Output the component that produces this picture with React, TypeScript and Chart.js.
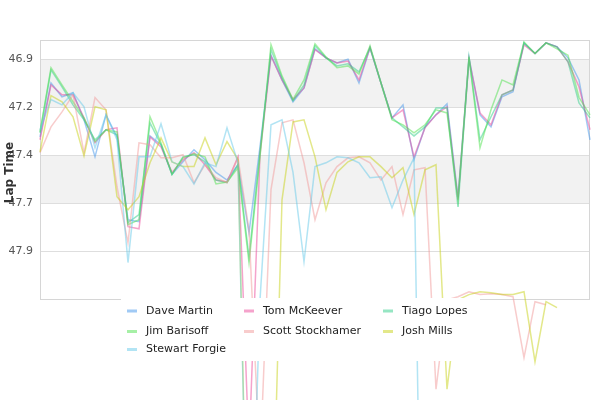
import React, { useEffect, useRef } from 'react';
import { Chart, registerables } from 'chart.js';

Chart.register(...registerables);

const laps = [
  '1', '2', '3', '4', '5', '6', '7', '8', '9', '10',
  '11', '12', '13', '14', '15', '16', '17', '18', '19', '20',
  '21', '22', '23', '24', '25', '26', '27', '28', '29', '30',
  '31', '32', '33', '34', '35', '36', '37', '38', '39', '40',
  '41', '42', '43', '44', '45', '46', '47', '48', '49', '50', '51',
];

const yTicks = [46.9, 47.15, 47.4, 47.65, 47.9];
const yTickLabels = ['46.9', '47.2', '47.4', '47.7', '47.9'];

const daveMartin = [
  47.305, 47.024, 47.096, 47.075, 47.216, 47.409, 47.19, 47.305, 47.737, 47.747,
  47.3, 47.346, 47.5, 47.435, 47.372, 47.424, 47.49, 47.53, 47.45, 47.805,
  47.357, 46.88, 47.008, 47.122, 47.05, 46.846, 46.893, 46.92, 46.9, 47.024,
  46.84, 47.024, 47.206, 47.138, 47.424, 47.253, 47.19, 47.133, 47.62, 46.893,
  47.19, 47.253, 47.096, 47.07, 46.815, 46.87, 46.815, 46.836, 46.893, 47.008, 47.32,
];
const tomMcKeever = [
  47.32, 47.034, 47.086, 47.086, 47.206, 47.336, 47.268, 47.258, 47.773, 47.784,
  47.305, 47.357, 47.49, 47.424, 47.388, 47.45, 47.53, 47.54, 47.409, 48.935,
  47.398, 46.883, 47.008, 47.11, 47.05, 46.85, 46.893, 46.92, 46.91, 47.008,
  46.84, 47.024, 47.206, 47.164, 47.409, 47.258, 47.19, 47.148, 47.633, 46.9,
  47.18, 47.242, 47.086, 47.06, 46.825, 46.87, 46.815, 46.836, 46.914, 47.044, 47.268,
];
const tiagoLopes = [
  47.284, 46.956, 47.044, 47.138, 47.216, 47.32, 47.268, 47.294, 47.752, 47.71,
  47.232, 47.346, 47.5, 47.409, 47.398, 47.435, 47.53, 47.544, 47.45, 47.93,
  47.383, 46.85, 46.997, 47.117, 47.034, 46.83, 46.893, 46.935, 46.924, 46.966,
  46.84, 47.024, 47.206, 47.253, 47.3, 47.253, 47.154, 47.154, 47.67, 46.893,
  47.32, 47.2, 47.086, 47.06, 46.815, 46.87, 46.815, 46.836, 46.914, 47.128, 47.206,
];
const jimBarisoff = [
  47.279, 46.945, 47.034, 47.122, 47.206, 47.33, 47.268, 47.279, 47.763, 47.737,
  47.2, 47.336, 47.5, 47.414, 47.393, 47.409, 47.55, 47.54, 47.466, 47.96,
  47.409, 46.825, 46.987, 47.11, 47.008, 46.82, 46.888, 46.945, 46.935, 46.977,
  46.83, 47.024, 47.216, 47.242, 47.284, 47.242, 47.164, 47.18, 47.633, 46.888,
  47.362, 47.164, 47.008, 47.034, 46.81, 46.87, 46.815, 46.846, 46.88, 47.1, 47.19,
];
const scottStockhamer = [
  47.388, 47.253, 47.175, 47.086, 47.388, 47.1, 47.164, 47.565, 47.857, 47.336,
  47.346, 47.414, 47.414, 47.398, 47.544, 47.45, 47.518, 47.544, 47.414, 47.79,
  49.013, 47.58, 47.232, 47.216, 47.44, 47.737, 47.544, 47.46, 47.414, 47.409,
  47.44, 47.53, 47.46, 47.71, 47.477, 47.466, 48.62, 48.154, 48.138, 48.112,
  48.127, 48.122, 48.127, 48.138, 48.456, 48.164, 48.18,
];
const joshMills = [
  47.383, 47.09, 47.122, 47.2, 47.404, 47.148, 47.164, 47.617, 47.685, 47.617,
  47.44, 47.31, 47.435, 47.46, 47.46, 47.31, 47.45, 47.33, 47.424, 49.91,
  51.277, 49.716, 47.633, 47.227, 47.216, 47.409, 47.685, 47.49, 47.435, 47.409,
  47.409, 47.46, 47.518, 47.466, 47.71, 47.477, 47.45, 48.62, 48.154, 48.127,
  48.112, 48.117, 48.127, 48.127, 48.112, 48.477, 48.164, 48.195,
];
const stewartForgie = [
  47.268, 47.11, 47.138, 47.075, 47.148, 47.362, 47.19, 47.32, 47.96, 47.409,
  47.409, 47.237, 47.435, 47.46, 47.55, 47.44, 47.46, 47.258, 47.44, 49.975,
  48.154, 47.242, 47.216, 47.49, 47.956, 47.46, 47.44, 47.409, 47.414, 47.44,
  47.518, 47.513, 47.674, 47.53, 47.414, 50.954,
];

const riders = [
  { name: 'Dave Martin', data: daveMartin, color: 'rgba(66, 150, 235, 0.5)' },
  { name: 'Tom McKeever', data: tomMcKeever, color: 'rgba(235, 71, 153, 0.5)' },
  { name: 'Tiago Lopes', data: tiagoLopes, color: 'rgba(45, 205, 135, 0.5)' },
  { name: 'Jim Barisoff', data: jimBarisoff, color: 'rgba(77, 225, 77, 0.5)' },
  { name: 'Scott Stockhamer', data: scottStockhamer, color: 'rgba(241, 153, 153, 0.5)' },
  { name: 'Josh Mills', data: joshMills, color: 'rgba(199, 209, 21, 0.5)' },
  { name: 'Stewart Forgie', data: stewartForgie, color: 'rgba(101, 201, 233, 0.5)' },
];

const FONT = '"DejaVu Sans", sans-serif';

// grey bands between every other pair of ticks, plus the plot frame
const bandsPlugin = {
  id: 'bands',
  beforeDraw(chart: any) {
    const { ctx, chartArea: a, scales } = chart;
    const y = scales.y;
    ctx.save();
    ctx.fillStyle = '#f2f2f2';
    for (let i = 0; i + 1 < yTicks.length; i += 2) {
      const y0 = y.getPixelForValue(yTicks[i]);
      const y1 = y.getPixelForValue(yTicks[i + 1]);
      ctx.fillRect(a.left, y0, a.right - a.left, y1 - y0);
    }
    ctx.restore();
  },
  beforeDatasetsDraw(chart: any) {
    const { ctx, chartArea: a } = chart;
    ctx.save();
    ctx.strokeStyle = '#d6d6d6';
    ctx.lineWidth = 1;
    ctx.strokeRect(a.left + 0.5, a.top + 0.5, a.right - a.left - 1, a.bottom - a.top);
    ctx.restore();
  },
};

// legend box painted over the lines, and the axis title
const overlayPlugin = {
  id: 'overlay',
  afterDraw(chart: any) {
    const { ctx, chartArea: a, width } = chart;
    const boxW = 359;
    const left = Math.round((width - boxW) / 2);
    const top = a.bottom - 1;
    ctx.save();
    ctx.fillStyle = '#ffffff';
    ctx.fillRect(left, top, boxW, 63);

    const cols = [6, 123, 262];
    const rows = [13, 33.5, 51.5];
    ctx.font = `11px ${FONT}`;
    ctx.textBaseline = 'middle';
    ctx.textAlign = 'left';
    riders.forEach((r, i) => {
      const cx = left + cols[i % 3];
      const cy = top + rows[Math.floor(i / 3)];
      ctx.fillStyle = r.color;
      ctx.fillRect(cx, cy - 1.5, 10, 3);
      ctx.fillStyle = '#222222';
      ctx.fillText(r.name, cx + 19, cy);
    });

    ctx.translate(10, (a.top + a.bottom) / 2 + 3);
    ctx.rotate(-Math.PI / 2);
    ctx.font = `bold 12px ${FONT}`;
    ctx.fillStyle = '#333333';
    ctx.textAlign = 'center';
    ctx.fillText('Lap Time', 0, 0);
    ctx.restore();
  },
};

const App: React.FC = () => {
  const canvasRef = useRef<HTMLCanvasElement>(null);
  const chartRef = useRef<Chart>();

  useEffect(() => {
    if (!canvasRef.current) return;
    const ctx = canvasRef.current.getContext('2d');
    if (!ctx) return;

    chartRef.current = new Chart(ctx, {
      type: 'line',
      data: {
        labels: laps,
        datasets: riders.map((r, i) => ({
          label: r.name,
          data: r.data,
          borderColor: r.color,
          backgroundColor: r.color,
          borderWidth: 1.5,
          pointRadius: 0,
          pointHoverRadius: 0,
          tension: 0,
          fill: false,
          clip: false,
          order: -i,
        })),
      },
      options: {
        responsive: false,
        animation: false,
        layout: { padding: { top: 40, right: 10, bottom: 101, left: 0 } },
        plugins: {
          legend: { display: false },
          tooltip: { enabled: false },
        },
        scales: {
          x: { display: false, offset: false },
          y: {
            reverse: true,
            min: 46.8,
            max: 48.15,
            afterFit: (scale: any) => {
              scale.width = 40;
            },
            afterBuildTicks: (scale: any) => {
              scale.ticks = yTicks.map(v => ({ value: v }));
            },
            border: { display: false },
            grid: { color: '#dedede', drawTicks: false },
            ticks: {
              padding: 7,
              color: '#555555',
              font: { family: FONT, size: 11 },
              callback: (_v: any, index: number) => yTickLabels[index],
            },
          },
        },
      },
      plugins: [bandsPlugin, overlayPlugin],
    });

    return () => {
      if (chartRef.current) {
        chartRef.current.destroy();
      }
    };
  }, []);

  return (
    <div style={{ position: 'absolute', left: 0, top: 0, width: 600, height: 400, background: '#fff' }}>
      <canvas ref={canvasRef} width={600} height={400} style={{ display: 'block' }} />
    </div>
  );
};

export default App;
